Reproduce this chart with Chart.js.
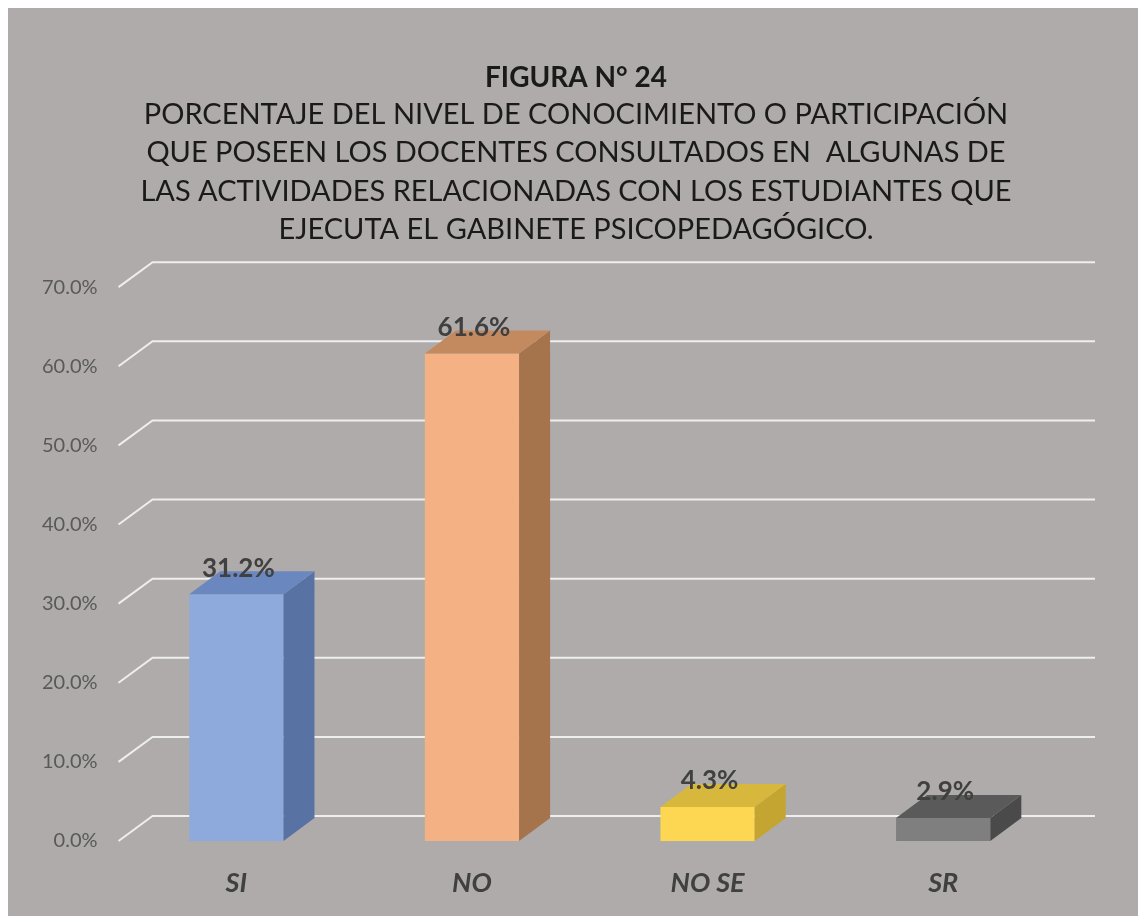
<!DOCTYPE html>
<html>
<head>
<meta charset="utf-8">
<script src="https://cdn.jsdelivr.net/npm/chart.js@4.4.1/dist/chart.umd.min.js"></script>
<style>
  html, body { margin: 0; padding: 0; background: #ffffff; }
  #wrap { width: 1138px; height: 916px; }
</style>
</head>
<body>
<div id="wrap"><canvas id="grafico" width="1138" height="916"></canvas></div>
<script>
// ── Datos ─────────────────────────────────────────────
const categorias = ["SI", "NO", "NO SE", "SR"];
const porcentajes = [31.2, 61.6, 4.3, 2.9];
const ticksY = [0, 10, 20, 30, 40, 50, 60, 70];

const titulo = "FIGURA N° 24";
const subtitulo = [
    "PORCENTAJE DEL NIVEL DE CONOCIMIENTO O PARTICIPACIÓN",
    "QUE POSEEN LOS DOCENTES CONSULTADOS EN  ALGUNAS DE",
    "LAS ACTIVIDADES RELACIONADAS CON LOS ESTUDIANTES QUE",
    "EJECUTA EL GABINETE PSICOPEDAGÓGICO."
];

// colores: cara frontal, lateral, superior
const colorFrente = ["#8eaadc", "#f4b183", "#fdd752", "#7f7f7f"];
const colorLado = ["#5872a3", "#a5734c", "#c4a532", "#4a4a4a"];
const colorTope = ["#6a88bf", "#c48a5f", "#d8b83c", "#5a5a5a"];

const FUENTE = "Lato, 'Open Sans', sans-serif";

// ── Fondo del panel ───────────────────────────────────
const fondo = {
    id: "fondo",
    beforeDraw(chart) {
        const ctx = chart.ctx;
        ctx.save();
        ctx.fillStyle = "#ffffff";
        ctx.fillRect(0, 0, chart.width, chart.height);
        ctx.fillStyle = "#afabaa";
        ctx.fillRect(8, 8, chart.width - 8, chart.height - 8);
        ctx.restore();
    }
};

// ── Centrar títulos respecto al panel completo ────────
const centrarTitulos = {
    id: "centrarTitulos",
    afterLayout(chart) {
        chart.boxes.forEach(b => {
            if (b.position === "top") {
                b.left += 35;
                b.right += 35;
            }
        });
    }
};

// ── Rejilla con perspectiva ───────────────────────────
const rejilla3d = {
    id: "rejilla3d",
    beforeDatasetsDraw(chart) {
        const { ctx, chartArea, scales } = chart;
        const dx = 34, dy = 25;
        ctx.save();
        ctx.strokeStyle = "rgba(245,245,245,0.9)";
        ctx.lineWidth = 2;
        ticksY.forEach(v => {
            const y = scales.y.getPixelForValue(v);
            ctx.beginPath();
            ctx.moveTo(chartArea.left, y);
            ctx.lineTo(chartArea.left + dx, y - dy);
            ctx.lineTo(chartArea.right + dx, y - dy);
            ctx.stroke();
        });
        ctx.restore();
    }
};

// ── Barras 3D y etiquetas ─────────────────────────────
const barras3d = {
    id: "barras3d",
    afterDatasetsDraw(chart) {
        const ctx = chart.ctx;
        const meta = chart.getDatasetMeta(0);
        const dx = 31, dy = 23;
        ctx.save();
        meta.data.forEach((bar, i) => {
            const p = bar.getProps(["x", "y", "base", "width"], true);
            const l = p.x - p.width / 2;
            const r = p.x + p.width / 2;

            // lateral
            ctx.fillStyle = colorLado[i];
            ctx.beginPath();
            ctx.moveTo(r, p.base);
            ctx.lineTo(r + dx, p.base - dy);
            ctx.lineTo(r + dx, p.y - dy);
            ctx.lineTo(r, p.y);
            ctx.closePath();
            ctx.fill();

            // tope
            ctx.fillStyle = colorTope[i];
            ctx.beginPath();
            ctx.moveTo(l, p.y);
            ctx.lineTo(l + dx, p.y - dy);
            ctx.lineTo(r + dx, p.y - dy);
            ctx.lineTo(r, p.y);
            ctx.closePath();
            ctx.fill();
        });

        // etiquetas de valor
        ctx.fillStyle = "#404040";
        ctx.font = "bold 26px " + FUENTE;
        ctx.textAlign = "center";
        ctx.textBaseline = "middle";
        meta.data.forEach((bar, i) => {
            const p = bar.getProps(["x", "y"], true);
            ctx.fillText(porcentajes[i].toFixed(1) + "%", p.x + 2, p.y - 26);
        });
        ctx.restore();
    }
};

new Chart(document.getElementById("grafico"), {
    type: "bar",
    data: {
        labels: categorias,
        datasets: [{
            data: porcentajes,
            backgroundColor: colorFrente,
            borderWidth: 0,
            barPercentage: 0.4,
            categoryPercentage: 1
        }]
    },
    options: {
        responsive: false,
        animation: false,
        layout: { padding: { left: 21, right: 77, top: 0, bottom: 0 } },
        plugins: {
            legend: { display: false },
            tooltip: { enabled: false },
            title: {
                display: true,
                text: titulo,
                color: "#1a1a1a",
                font: { family: FUENTE, size: 28, weight: "bold", lineHeight: 1.11 },
                padding: { top: 62, bottom: 0 }
            },
            subtitle: {
                display: true,
                text: subtitulo,
                color: "#1a1a1a",
                font: { family: FUENTE, size: 29, weight: "normal", lineHeight: 1.328 },
                padding: { top: 2, bottom: 38 }
            }
        },
        scales: {
            x: {
                grid: { display: false, drawTicks: false },
                border: { display: false },
                afterFit(scale) { scale.height = 75; },
                ticks: {
                    color: "#404040",
                    padding: 26,
                    font: { family: FUENTE, size: 27, weight: "bold", style: "italic" }
                }
            },
            y: {
                min: 0,
                max: 70,
                afterBuildTicks(scale) {
                    scale.ticks = ticksY.map(v => ({ value: v }));
                },
                grid: { display: false, drawTicks: false },
                border: { display: false },
                ticks: {
                    color: "#595959",
                    padding: 21,
                    font: { family: FUENTE, size: 20 },
                    callback: v => v.toFixed(1) + "%"
                }
            }
        }
    },
    plugins: [fondo, centrarTitulos, rejilla3d, barras3d]
});
</script>
</body>
</html>
